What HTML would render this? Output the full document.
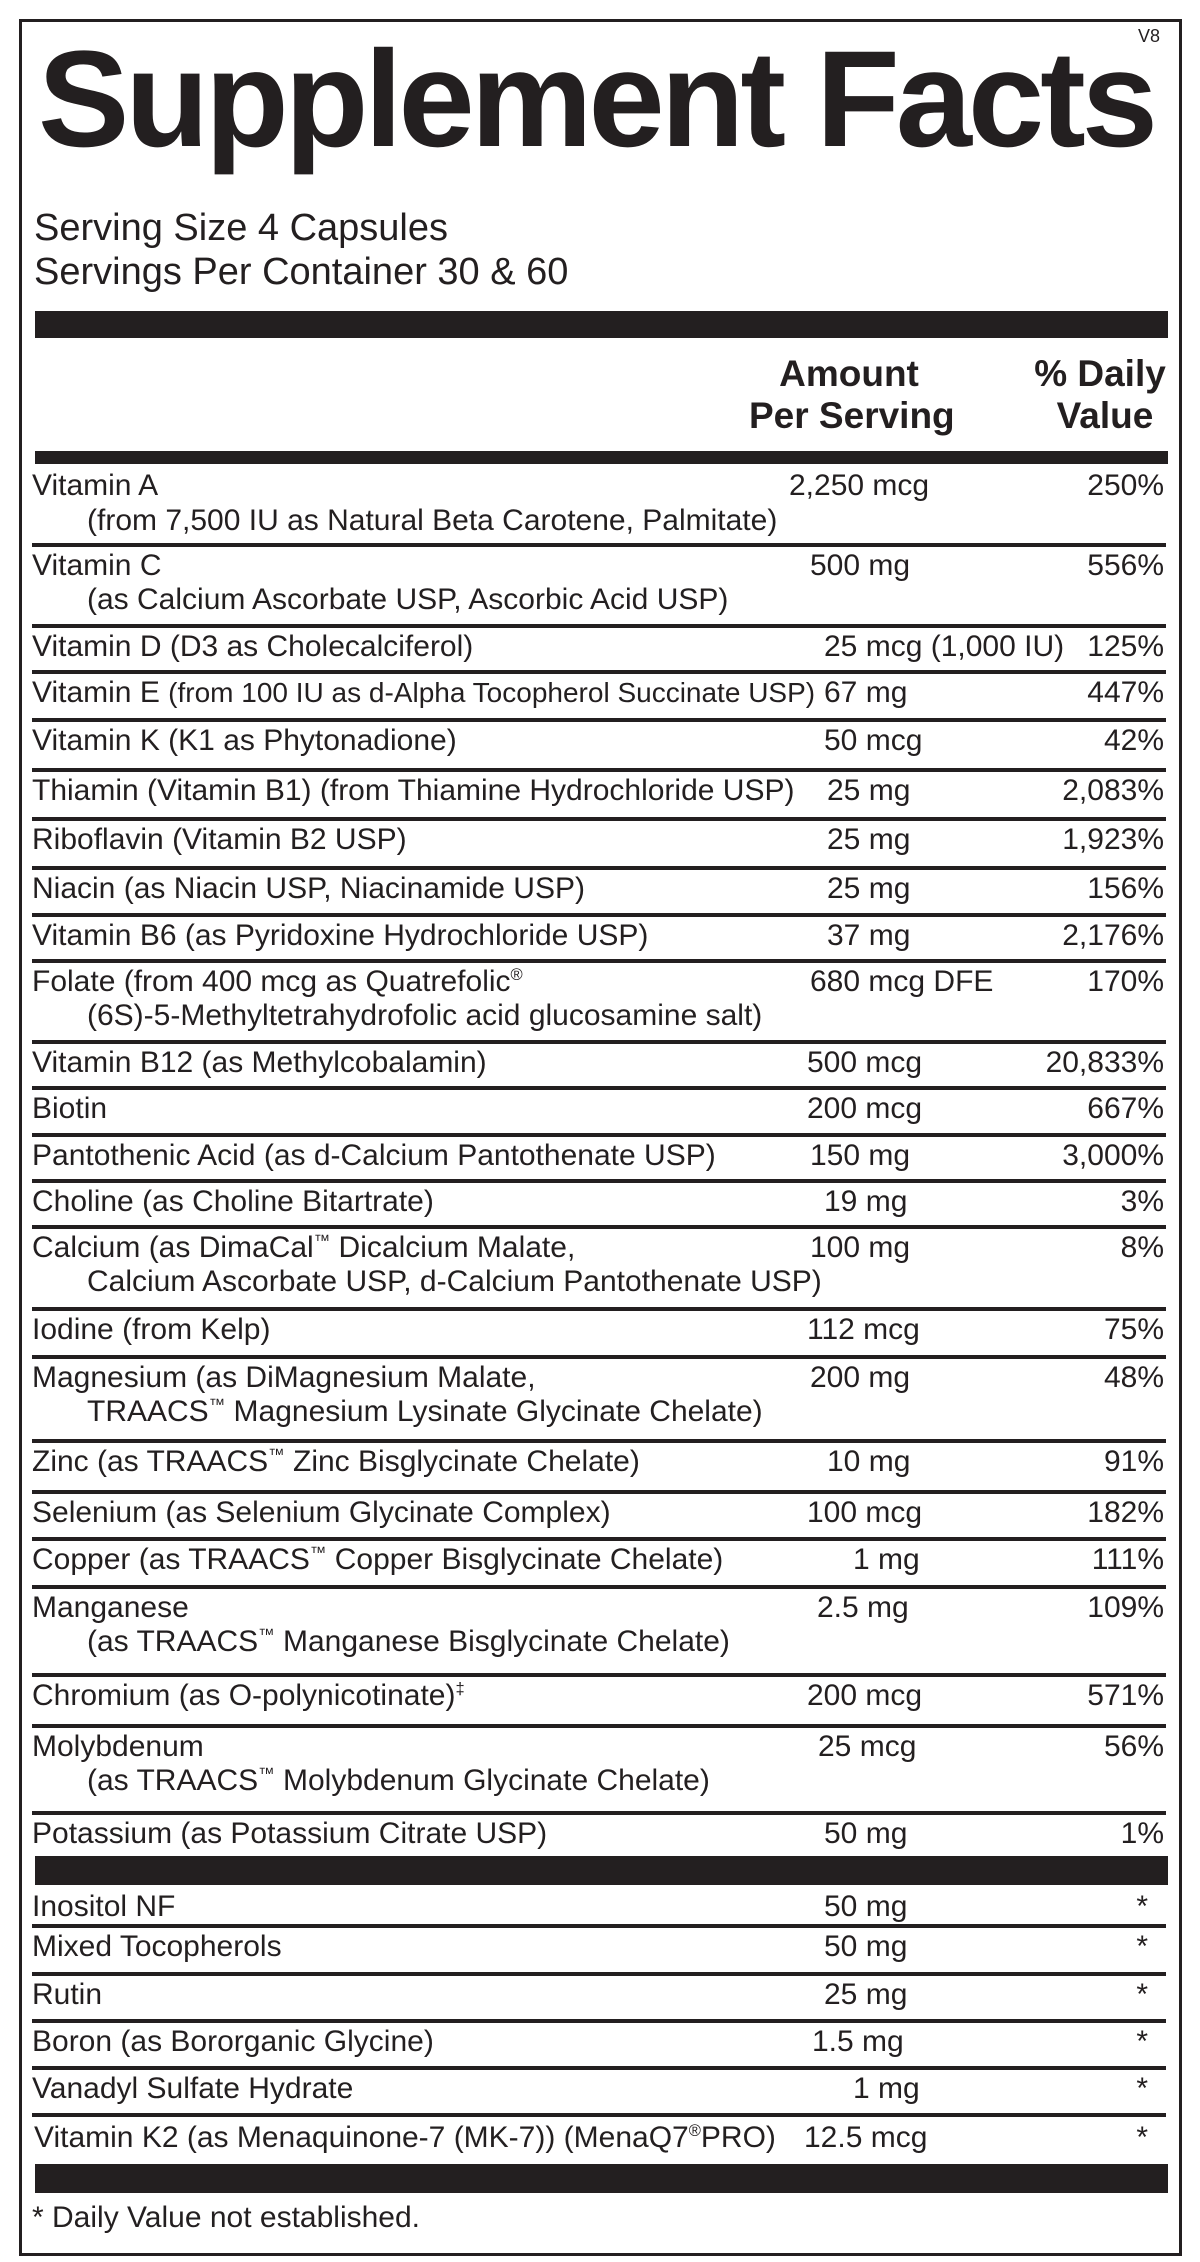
<!DOCTYPE html>
<html><head><meta charset="utf-8"><style>
html,body{margin:0;padding:0;background:#fff;}
body{width:1200px;height:2262px;position:relative;overflow:hidden;font-family:"Liberation Sans",Arial,sans-serif;color:#231f20;}
.box{position:absolute;left:19px;top:19px;width:1157px;height:2231px;border:3px solid #231f20;}
.bar{position:absolute;left:35px;width:1133px;background:#231f20;}
.sep{position:absolute;left:32px;width:1134px;height:4px;background:#231f20;}
.t{position:absolute;font-size:30px;line-height:30px;white-space:nowrap;}
.p{position:absolute;right:36px;font-size:30px;line-height:30px;white-space:nowrap;text-align:right;}
.h{position:absolute;font-size:37px;line-height:37px;font-weight:bold;text-align:center;white-space:nowrap;}
sup{font-size:55%;line-height:0;vertical-align:super;}
.sm{font-size:28px;}
</style></head><body>
<div class="box"></div>
<div class="t" style="left:1138px;top:27px;font-size:18px;line-height:18px;">V8</div>
<div class="t" style="left:38px;top:31px;font-size:137px;line-height:137px;font-weight:bold;letter-spacing:-4px;">Supplement Facts</div>
<div class="t" style="left:34px;top:209px;font-size:38px;line-height:38px;">Serving Size 4 Capsules</div>
<div class="t" style="left:34px;top:253px;font-size:38px;line-height:38px;">Servings Per Container 30 &amp; 60</div>
<div class="bar" style="top:311px;height:27px;"></div>
<div class="h" style="left:749px;width:200px;top:355px;">Amount</div>
<div class="h" style="left:749px;width:200px;top:397px;">Per Serving</div>
<div class="h" style="left:1010px;width:180px;top:355px;">% Daily</div>
<div class="h" style="left:1015px;width:180px;top:397px;">Value</div>
<div class="bar" style="top:451px;height:13px;"></div>

<div class="t" style="left:32px;top:471px;">Vitamin A</div>
<div class="t" style="left:87px;top:506px;">(from 7,500 IU as Natural Beta Carotene, Palmitate)</div>
<div class="t" style="left:789px;top:471px;">2,250 mcg</div><div class="p" style="top:471px;">250%</div>
<div class="sep" style="top:543px;"></div>

<div class="t" style="left:32px;top:551px;">Vitamin C</div>
<div class="t" style="left:87px;top:585px;">(as Calcium Ascorbate USP, Ascorbic Acid USP)</div>
<div class="t" style="left:810px;top:551px;">500 mg</div><div class="p" style="top:551px;">556%</div>
<div class="sep" style="top:624px;"></div>

<div class="t" style="left:32px;top:632px;">Vitamin D (D3 as Cholecalciferol)</div>
<div class="t" style="left:824px;top:632px;">25 mcg (1,000 IU)</div><div class="p" style="top:632px;">125%</div>
<div class="sep" style="top:670px;"></div>

<div class="t" style="left:32px;top:678px;">Vitamin E <span class="sm">(from 100 IU as d-Alpha Tocopherol Succinate USP)</span></div>
<div class="t" style="left:824px;top:678px;">67 mg</div><div class="p" style="top:678px;">447%</div>
<div class="sep" style="top:718px;"></div>

<div class="t" style="left:32px;top:726px;">Vitamin K (K1 as Phytonadione)</div>
<div class="t" style="left:824px;top:726px;">50 mcg</div><div class="p" style="top:726px;">42%</div>
<div class="sep" style="top:768px;"></div>

<div class="t" style="left:32px;top:776px;">Thiamin (Vitamin B1) (from Thiamine Hydrochloride USP)</div>
<div class="t" style="left:827px;top:776px;">25 mg</div><div class="p" style="top:776px;">2,083%</div>
<div class="sep" style="top:817px;"></div>

<div class="t" style="left:32px;top:825px;">Riboflavin (Vitamin B2 USP)</div>
<div class="t" style="left:827px;top:825px;">25 mg</div><div class="p" style="top:825px;">1,923%</div>
<div class="sep" style="top:866px;"></div>

<div class="t" style="left:32px;top:874px;">Niacin (as Niacin USP, Niacinamide USP)</div>
<div class="t" style="left:827px;top:874px;">25 mg</div><div class="p" style="top:874px;">156%</div>
<div class="sep" style="top:913px;"></div>

<div class="t" style="left:32px;top:921px;">Vitamin B6 (as Pyridoxine Hydrochloride USP)</div>
<div class="t" style="left:827px;top:921px;">37 mg</div><div class="p" style="top:921px;">2,176%</div>
<div class="sep" style="top:959px;"></div>

<div class="t" style="left:32px;top:967px;">Folate (from 400 mcg as Quatrefolic<sup>®</sup></div>
<div class="t" style="left:87px;top:1001px;">(6S)-5-Methyltetrahydrofolic acid glucosamine salt)</div>
<div class="t" style="left:810px;top:967px;">680 mcg DFE</div><div class="p" style="top:967px;">170%</div>
<div class="sep" style="top:1040px;"></div>

<div class="t" style="left:32px;top:1048px;">Vitamin B12 (as Methylcobalamin)</div>
<div class="t" style="left:807px;top:1048px;">500 mcg</div><div class="p" style="top:1048px;">20,833%</div>
<div class="sep" style="top:1086px;"></div>

<div class="t" style="left:32px;top:1094px;">Biotin</div>
<div class="t" style="left:807px;top:1094px;">200 mcg</div><div class="p" style="top:1094px;">667%</div>
<div class="sep" style="top:1133px;"></div>

<div class="t" style="left:32px;top:1141px;">Pantothenic Acid (as d-Calcium Pantothenate USP)</div>
<div class="t" style="left:810px;top:1141px;">150 mg</div><div class="p" style="top:1141px;">3,000%</div>
<div class="sep" style="top:1179px;"></div>

<div class="t" style="left:32px;top:1187px;">Choline (as Choline Bitartrate)</div>
<div class="t" style="left:824px;top:1187px;">19 mg</div><div class="p" style="top:1187px;">3%</div>
<div class="sep" style="top:1225px;"></div>

<div class="t" style="left:32px;top:1233px;">Calcium (as DimaCal<sup>™</sup> Dicalcium Malate,</div>
<div class="t" style="left:87px;top:1267px;">Calcium Ascorbate USP, d-Calcium Pantothenate USP)</div>
<div class="t" style="left:810px;top:1233px;">100 mg</div><div class="p" style="top:1233px;">8%</div>
<div class="sep" style="top:1307px;"></div>

<div class="t" style="left:32px;top:1315px;">Iodine (from Kelp)</div>
<div class="t" style="left:807px;top:1315px;">112 mcg</div><div class="p" style="top:1315px;">75%</div>
<div class="sep" style="top:1355px;"></div>

<div class="t" style="left:32px;top:1363px;">Magnesium (as DiMagnesium Malate,</div>
<div class="t" style="left:87px;top:1397px;">TRAACS<sup>™</sup> Magnesium Lysinate Glycinate Chelate)</div>
<div class="t" style="left:810px;top:1363px;">200 mg</div><div class="p" style="top:1363px;">48%</div>
<div class="sep" style="top:1439px;"></div>

<div class="t" style="left:32px;top:1447px;">Zinc (as TRAACS<sup>™</sup> Zinc Bisglycinate Chelate)</div>
<div class="t" style="left:827px;top:1447px;">10 mg</div><div class="p" style="top:1447px;">91%</div>
<div class="sep" style="top:1490px;"></div>

<div class="t" style="left:32px;top:1498px;">Selenium (as Selenium Glycinate Complex)</div>
<div class="t" style="left:807px;top:1498px;">100 mcg</div><div class="p" style="top:1498px;">182%</div>
<div class="sep" style="top:1537px;"></div>

<div class="t" style="left:32px;top:1545px;">Copper (as TRAACS<sup>™</sup> Copper Bisglycinate Chelate)</div>
<div class="t" style="left:853px;top:1545px;">1 mg</div><div class="p" style="top:1545px;">111%</div>
<div class="sep" style="top:1585px;"></div>

<div class="t" style="left:32px;top:1593px;">Manganese</div>
<div class="t" style="left:87px;top:1627px;">(as TRAACS<sup>™</sup> Manganese Bisglycinate Chelate)</div>
<div class="t" style="left:817px;top:1593px;">2.5 mg</div><div class="p" style="top:1593px;">109%</div>
<div class="sep" style="top:1673px;"></div>

<div class="t" style="left:32px;top:1681px;">Chromium (as O-polynicotinate)<sup>‡</sup></div>
<div class="t" style="left:807px;top:1681px;">200 mcg</div><div class="p" style="top:1681px;">571%</div>
<div class="sep" style="top:1724px;"></div>

<div class="t" style="left:32px;top:1732px;">Molybdenum</div>
<div class="t" style="left:87px;top:1766px;">(as TRAACS<sup>™</sup> Molybdenum Glycinate Chelate)</div>
<div class="t" style="left:818px;top:1732px;">25 mcg</div><div class="p" style="top:1732px;">56%</div>
<div class="sep" style="top:1811px;"></div>

<div class="t" style="left:32px;top:1819px;">Potassium (as Potassium Citrate USP)</div>
<div class="t" style="left:824px;top:1819px;">50 mg</div><div class="p" style="top:1819px;">1%</div>
<div class="bar" style="top:1856px;height:29px;"></div>

<div class="t" style="left:32px;top:1892px;">Inositol NF</div>
<div class="t" style="left:824px;top:1892px;">50 mg</div><div class="p" style="top:1892px;right:52px;">*</div>
<div class="sep" style="top:1924px;"></div>

<div class="t" style="left:32px;top:1932px;">Mixed Tocopherols</div>
<div class="t" style="left:824px;top:1932px;">50 mg</div><div class="p" style="top:1932px;right:52px;">*</div>
<div class="sep" style="top:1972px;"></div>

<div class="t" style="left:32px;top:1980px;">Rutin</div>
<div class="t" style="left:824px;top:1980px;">25 mg</div><div class="p" style="top:1980px;right:52px;">*</div>
<div class="sep" style="top:2019px;"></div>

<div class="t" style="left:32px;top:2027px;">Boron (as Bororganic Glycine)</div>
<div class="t" style="left:812px;top:2027px;">1.5 mg</div><div class="p" style="top:2027px;right:52px;">*</div>
<div class="sep" style="top:2066px;"></div>

<div class="t" style="left:32px;top:2074px;">Vanadyl Sulfate Hydrate</div>
<div class="t" style="left:853px;top:2074px;">1 mg</div><div class="p" style="top:2074px;right:52px;">*</div>
<div class="sep" style="top:2113px;"></div>

<div class="t" style="left:34px;top:2123px;">Vitamin K2 (as Menaquinone-7 (MK-7)) (MenaQ7<sup>®</sup>PRO)</div>
<div class="t" style="left:804px;top:2123px;">12.5 mcg</div><div class="p" style="top:2123px;right:52px;">*</div>
<div class="bar" style="top:2164px;height:29px;"></div>

<div class="t" style="left:32px;top:2203px;">* Daily Value not established.</div>
</body></html>
